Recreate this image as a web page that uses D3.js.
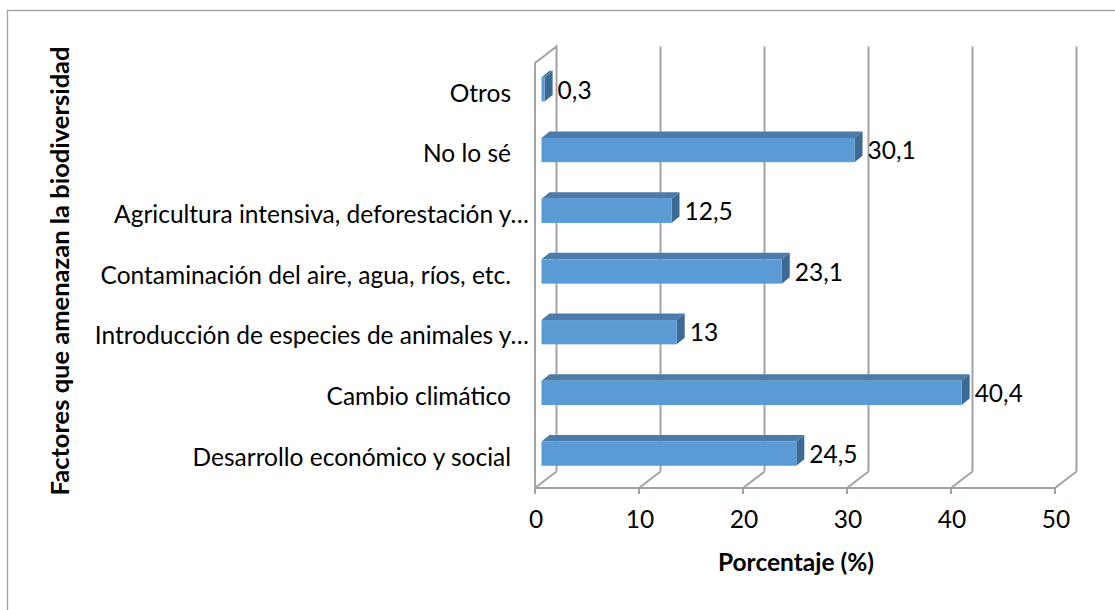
<!DOCTYPE html>
<html><head><meta charset="utf-8">
<script src="https://cdn.jsdelivr.net/npm/d3@7"></script>
<style>body{margin:0;background:#fff}svg{display:block}text{font-family:Lato,"Open Sans",sans-serif;fill:#000}</style>
</head><body><svg id="c" width="1115" height="610"></svg>
<script>
const categories = ["Desarrollo económico y social","Cambio climático","Introducción de especies de animales y…","Contaminación del aire, agua, ríos, etc.","Agricultura intensiva, deforestación y…","No lo sé","Otros"];
const values = [24.5, 40.4, 13, 23.1, 12.5, 30.1, 0.3];
const valueLabels = ["24,5","40,4","13","23,1","12,5","30,1","0,3"];
const xTicks = [0,10,20,30,40,50];
const xTitle = "Porcentaje (%)";
const yTitle = "Factores que amenazan la biodiversidad";

const svg = d3.select("#c");
const x = d3.scaleLinear().domain([0,50]).range([535,1055]);
const y = d3.scaleBand().domain(categories).range([488,63]).paddingInner(0.6).paddingOuter(0.3);
const yFull = d3.scaleBand().domain(categories).range([488,63]);
const wallDx = 21.5, wallDy = -16.5;
const barOx = 6.5, barOy = -4;
const barDx = 8, barDy = -6.5;
const grid = "#a3a3a3";
const yTop = 63, yBot = 488;
const fs = 24.5;

// outer border
svg.append("rect").attr("x",7.5).attr("y",10.5).attr("width",1120).attr("height",620).attr("fill","none").attr("stroke","#a0a0a0").attr("stroke-width",1.3);

const g = svg.append("g").attr("stroke",grid).attr("stroke-width",2).attr("fill","none");
// left wall
g.append("path").attr("d",`M${x(0)},${yBot}V${yTop}L${x(0)+wallDx},${yTop+wallDy}V${yBot+wallDy}`);
// back gridlines
xTicks.forEach(t=>{
  if(t>0) g.append("line").attr("x1",x(t)+wallDx).attr("x2",x(t)+wallDx).attr("y1",yTop+wallDy).attr("y2",yBot+wallDy);
  g.append("line").attr("x1",x(t)).attr("y1",yBot).attr("x2",x(t)+wallDx).attr("y2",yBot+wallDy);
  g.append("line").attr("x1",x(t)).attr("x2",x(t)).attr("y1",yBot).attr("y2",yBot+6);
});
g.append("line").attr("x1",x(0)).attr("x2",x(50)).attr("y1",yBot).attr("y2",yBot);

// bars
const bars = svg.append("g");
categories.forEach((c,i)=>{
  const v = values[i];
  const x0 = x(0)+barOx, x1 = x(v)+barOx;
  const yt = y(c)+barOy, yb = yt + y.bandwidth();
  bars.append("path").attr("fill","#4a7bab")
    .attr("d",`M${x0},${yt}L${x0+barDx},${yt+barDy}L${x1+barDx},${yt+barDy}L${x1},${yt}Z`);
  bars.append("path").attr("fill","#3b6a97")
    .attr("d",`M${x1},${yt}L${x1+barDx},${yt+barDy}L${x1+barDx},${yb+barDy}L${x1},${yb}Z`);
  bars.append("rect").attr("x",x0).attr("y",yt).attr("width",Math.max(0,x1-x0)).attr("height",y.bandwidth()).attr("fill","#5b9bd5");
  svg.append("text").attr("x",x1+barDx+5).attr("y",(yt+yb)/2+3).attr("dominant-baseline","middle")
    .attr("font-size",fs).text(valueLabels[i]);
  const truncated = c.endsWith("…");
  svg.append("text").attr("x",truncated ? 529 : 511).attr("y",yFull(c)+yFull.bandwidth()/2+2).attr("dominant-baseline","middle")
    .attr("text-anchor","end").attr("font-size",fs).text(c);
});

// tick labels
xTicks.forEach(t=>{
  svg.append("text").attr("x",x(t)+1).attr("y",522).attr("dominant-baseline","middle").attr("text-anchor","middle").attr("font-size",fs).text(t);
});

svg.append("text").attr("x",796).attr("y",565).attr("dominant-baseline","middle").attr("text-anchor","middle").attr("font-size",24.5).attr("font-weight","bold").text(xTitle);
svg.append("text").attr("transform","translate(62,271) rotate(-90)").attr("dominant-baseline","middle").attr("text-anchor","middle").attr("font-size",25.5).attr("font-weight","bold").text(yTitle);
</script></body></html>
